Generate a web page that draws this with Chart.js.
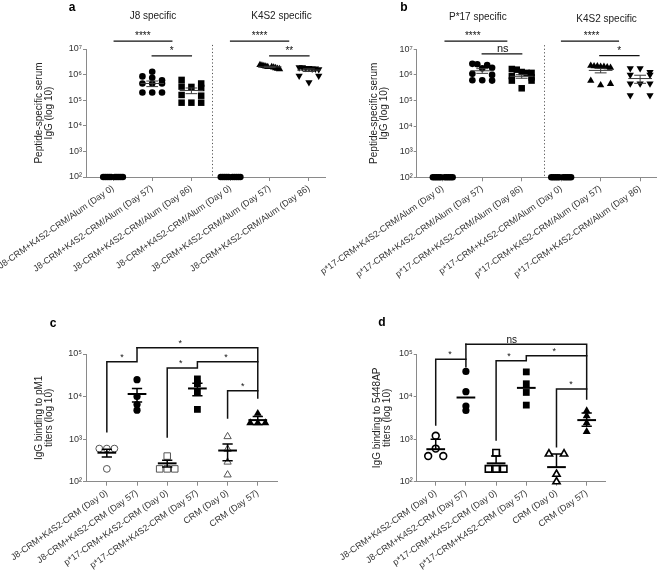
<!DOCTYPE html>
<html>
<head>
<meta charset="utf-8">
<script src="https://cdn.jsdelivr.net/npm/chart.js@4/dist/chart.umd.min.js"></script>
<style>
html,body{margin:0;padding:0;background:#fff;overflow:hidden;}
#wrap{position:relative;width:669px;height:572px;overflow:hidden;background:#fff;}
canvas{position:absolute;left:0;top:0;}
</style>
</head>
<body>
<div id="wrap">
<canvas id="ca" width="669" height="572"></canvas>
<canvas id="cb" width="669" height="572"></canvas>
<canvas id="cc" width="669" height="572"></canvas>
<canvas id="cd" width="669" height="572"></canvas>
</div>
<script>
// ---------------- DATA ----------------
// Panel a
const catsA = ['J8-CRM+K4S2-CRM/Alum (Day 0)', 'J8-CRM+K4S2-CRM/Alum (Day 57)', 'J8-CRM+K4S2-CRM/Alum (Day 86)',
               'J8-CRM+K4S2-CRM/Alum (Day 0)', 'J8-CRM+K4S2-CRM/Alum (Day 57)', 'J8-CRM+K4S2-CRM/Alum (Day 86)'];
const aJ8Day0    = [100, 100, 100, 100, 100, 100, 100, 100, 100, 100];
const aJ8Day57   = [1.3e6, 8.5e5, 7.5e5, 6.0e5, 4.5e5, 4.5e5, 4.5e5, 2.0e5, 2.0e5, 2.0e5];
const aJ8Day86   = [6.2e5, 4.5e5, 3.4e5, 3.3e5, 3.0e5, 1.6e5, 1.5e5, 8.0e4, 8.0e4, 8.0e4];
const aK4S2Day0  = [100, 100, 100, 100, 100, 100, 100, 100, 100, 100];
const aK4S2Day57 = [2.4e6, 2.3e6, 2.2e6, 2.1e6, 2.0e6, 2.0e6, 1.9e6, 1.8e6, 1.7e6, 1.65e6];
const aK4S2Day86 = [1.9e6, 1.9e6, 1.8e6, 1.8e6, 1.7e6, 1.7e6, 1.6e6, 9.0e5, 9.0e5, 5.0e5];
const aCenter = [null, 4.5e5, 2.4e5, null, 2.0e6, 1.5e6];
const aErr    = [0, 1.1e5, 6.0e4, 0, 1.2e5, 1.8e5];

// Panel b
const catsB = ['p*17-CRM+K4S2-CRM/Alum (Day 0)', 'p*17-CRM+K4S2-CRM/Alum (Day 57)', 'p*17-CRM+K4S2-CRM/Alum (Day 86)',
               'p*17-CRM+K4S2-CRM/Alum (Day 0)', 'p*17-CRM+K4S2-CRM/Alum (Day 57)', 'p*17-CRM+K4S2-CRM/Alum (Day 86)'];
const bP17Day0   = [100, 100, 100, 100, 100, 100, 100, 100, 100, 100];
const bP17Day57  = [2.7e6, 2.6e6, 2.4e6, 1.9e6, 1.8e6, 1.1e6, 1.0e6, 6.2e5, 6.0e5, 6.2e5];
const bP17Day86  = [1.7e6, 1.6e6, 1.3e6, 1.2e6, 1.2e6, 9.0e5, 8.0e5, 6.0e5, 6.0e5, 3.0e5];
const bK4S2Day0  = [100, 100, 100, 100, 100, 100, 100, 100, 100, 100];
const bK4S2Day57 = [2.3e6, 2.2e6, 2.2e6, 2.1e6, 2.1e6, 2.0e6, 1.9e6, 6.0e5, 4.5e5, 4.0e5];
const bK4S2Day86 = [1.8e6, 1.8e6, 1.3e6, 1.0e6, 1.0e6, 4.6e5, 4.6e5, 4.6e5, 1.6e5, 1.6e5];
const bCenter = [null, 1.45e6, 8.8e5, null, 1.5e6, 7.2e5];
const bErr    = [0, 3.0e5, 1.4e5, 0, 3.0e5, 2.5e5];

// Panel c
const catsC = ['J8-CRM+K4S2-CRM (Day 0)', 'J8-CRM+K4S2-CRM (Day 57)', 'p*17-CRM+K4S2-CRM (Day 0)',
               'p*17-CRM+K4S2-CRM (Day 57)', 'CRM (Day 0)', 'CRM (Day 57)'];
const cJ8Day0   = [600, 600, 600, 200];
const cJ8Day57  = [2.5e4, 1.0e4, 6.5e3, 4.8e3];
const cP17Day0  = [400, 200, 200, 200];
const cP17Day57 = [2.6e4, 2.0e4, 1.3e4, 5.0e3];
const cCRMDay0  = [1150, 580, 290, 145];
const cCRMDay57 = [4000, 2400, 2400, 2400];
const cCenter = [480, 11500, 270, 15500, 540, 2800];
const cErrUp  = [100, 4000, 50, 5000, 230, 600];
const cErrDn  = [100, 4000, 50, 5000, 230, 600];

// Panel d
const catsD = catsC.slice();
const dJ8Day0   = [1200, 600, 400, 400];
const dJ8Day57  = [3.9e4, 1.3e4, 6.0e3, 4.7e3];
const dP17Day0  = [480, 200, 200, 200];
const dP17Day57 = [3.8e4, 2.0e4, 1.25e4, 6.3e3];
const dCRMDay0  = [450, 450, 150, 100];
const dCRMDay57 = [4.6e3, 3.5e3, 2.4e3, 1.5e3];
const dCenter = [580, 9500, 270, 16000, 220, 2800];
const dErrUp  = [420, 0, 130, 0, 230, 1300];
const dErrDn  = [0, 0, 0, 0, 0, 800];

// axis ticks
const yTicksAB = [1e2, 1e3, 1e4, 1e5, 1e6, 1e7];
const yLabelsAB = ['10²', '10³', '10⁴', '10⁵', '10⁶', '10⁷'];
const yTicksCD = [1e2, 1e3, 1e4, 1e5];
const yLabelsCD = ['10²', '10³', '10⁴', '10⁵'];

// significance annotations: polylines as [category, log10(value)]
const aSigLines = [[[0.03, 7.31], [1.5, 7.31]], [[1, 6.73], [2, 6.73]], [[3, 7.31], [4.48, 7.31]], [[4, 6.73], [5, 6.73]]];
const aSigText  = [{t: '****', x: 0.76, l: 7.31}, {t: '*', x: 1.5, l: 6.73}, {t: '****', x: 3.74, l: 7.31}, {t: '**', x: 4.5, l: 6.73}];
const bSigLines = [[[0.06, 7.32], [1.62, 7.32]], [[1, 6.82], [2, 6.82]], [[3.01, 7.32], [4.45, 7.32]], [[3.98, 6.75], [4.97, 6.75]]];
const bSigText  = [{t: '****', x: 0.76, l: 7.32}, {t: 'ns', x: 1.52, l: 6.82}, {t: '****', x: 3.77, l: 7.32}, {t: '*', x: 4.47, l: 6.75}];
const cSigLines = [
  [[0, 3.175], [0, 4.819], [1, 4.819], [1, 5.148]],
  [[1, 5.148], [5, 5.148], [5, 3.966]],
  [[2, 3.05], [2, 4.671], [3, 4.671], [3, 4.819], [5, 4.819]],
  [[4, 3.497], [4, 4.138], [5, 4.138]]
];
const cSigText = [{t: '*', x: 0.5, l: 4.819}, {t: '*', x: 2.43, l: 5.148}, {t: '*', x: 2.45, l: 4.671}, {t: '*', x: 3.95, l: 4.819}, {t: '*', x: 4.5, l: 4.138}];
const dSigLines = [
  [[0, 3.332], [0, 4.875], [1, 4.875]],
  [[1, 4.701], [1, 5.228]],
  [[1, 5.228], [5, 5.228], [5, 3.943]],
  [[2, 2.98], [2, 4.842], [3, 4.842], [3, 4.96], [5, 4.96]],
  [[4, 2.822], [4, 4.178], [5, 4.178]]
];
const dSigText = [{t: '*', x: 0.47, l: 4.875}, {t: 'ns', x: 2.52, l: 5.228}, {t: '*', x: 2.43, l: 4.842}, {t: '*', x: 3.93, l: 4.96}, {t: '*', x: 4.48, l: 4.178}];

// ---------------- RENDERING ----------------
const FONT = '"Liberation Sans", Arial, Helvetica, sans-serif';
Chart.defaults.font.family = FONT;
Chart.defaults.font.size = 9;
Chart.defaults.color = '#333';

function slots(n) {
  const s = [];
  if (n % 2) { s.push(0); for (let k = 1; s.length < n; k++) s.push(-k, k); }
  else { for (let k = 1; s.length < n; k++) s.push(-k, k); }
  return s.slice(0, n).sort((a, b) => a - b);
}
function spreadOffsets(vals, pxPerDec, tolPx, step, maxHalf) {
  const order = vals.map((v, i) => i).sort((a, b) => vals[b] - vals[a]);
  const rows = []; let cur = null;
  order.forEach(i => {
    const l = Math.log10(vals[i]);
    if (cur && (cur.start - l) * pxPerDec <= tolPx) cur.items.push(i);
    else { cur = {start: l, items: [i]}; rows.push(cur); }
  });
  const off = vals.map(() => 0);
  rows.forEach(r => {
    const n = r.items.length;
    if (n < 2) return;
    const sl = slots(n);
    const maxSlot = Math.max(...sl.map(Math.abs));
    const st = Math.min(step, maxHalf / maxSlot);
    r.items.forEach((idx, k) => { off[idx] = sl[k] * st; });
  });
  return off;
}

function decorate(chart, P) {
  const ctx = chart.ctx, xs = chart.scales.x, ys = chart.scales.y;
  const X = v => xs.getPixelForValue(v);
  const Y = v => ys.getPixelForValue(v);
  const YL = l => ys.getPixelForValue(Math.pow(10, l));
  ctx.save();
  // dotted separators
  (P.separators || []).forEach(s => {
    ctx.beginPath(); ctx.setLineDash([1.2, 2.3]); ctx.lineWidth = 1; ctx.strokeStyle = '#555';
    const sx = Math.round(X(s.x)) + 0.5;
    ctx.moveTo(sx, YL(s.top)); ctx.lineTo(sx, ys.bottom); ctx.stroke();
  });
  ctx.setLineDash([]);
  // center line and error bars
  ctx.strokeStyle = P.meanColor; ctx.lineCap = 'butt';
  P.centers.forEach((c, i) => {
    if (c == null) return;
    const cy = Y(c), cx = X(i);
    ctx.lineWidth = P.meanWidth;
    ctx.beginPath(); ctx.moveTo(X(i - P.meanHalf), cy); ctx.lineTo(X(i + P.meanHalf), cy); ctx.stroke();
    ctx.lineWidth = P.errWidth;
    const up = P.errUp[i], dn = P.errDn[i];
    if (up > 0) {
      const ty = Y(c + up);
      ctx.beginPath(); ctx.moveTo(cx, cy); ctx.lineTo(cx, ty);
      ctx.moveTo(X(i - P.capHalf), ty); ctx.lineTo(X(i + P.capHalf), ty); ctx.stroke();
    }
    if (dn > 0 && c - dn > 0) {
      const by = Y(c - dn);
      ctx.beginPath(); ctx.moveTo(cx, cy); ctx.lineTo(cx, by);
      ctx.moveTo(X(i - P.capHalf), by); ctx.lineTo(X(i + P.capHalf), by); ctx.stroke();
    }
  });
  // significance brackets
  ctx.strokeStyle = '#111'; ctx.lineWidth = P.bracketWidth; ctx.lineJoin = 'miter'; ctx.lineCap = 'square';
  P.sigLines.forEach(pl => {
    ctx.beginPath();
    pl.forEach(([x, l], k) => { if (k) ctx.lineTo(X(x), YL(l)); else ctx.moveTo(X(x), YL(l)); });
    ctx.stroke();
  });
  ctx.fillStyle = '#111'; ctx.textAlign = 'center'; ctx.textBaseline = 'alphabetic';
  P.sigText.forEach(t => {
    const ns = t.t === 'ns';
    ctx.font = (ns ? P.nsSize : P.starSize) + 'px ' + FONT;
    ctx.fillText(t.t, X(t.x), YL(t.l) - (ns ? 1.5 : 2));
  });
  // group titles
  ctx.font = '10px ' + FONT; ctx.textBaseline = 'middle'; ctx.fillStyle = '#222';
  (P.groupTitles || []).forEach(g => ctx.fillText(g.t, X(g.x), g.y));
  // panel letter
  ctx.font = 'bold 12px ' + FONT; ctx.textAlign = 'center'; ctx.fillStyle = '#000';
  ctx.fillText(P.letter, P.letterX, P.letterY);
  ctx.restore();
}

function buildPanel(id, P) {
  const W = 669, H = 572;
  const pxPerDec = (P.area.bottom - P.area.top) / (Math.log10(P.ymax) - Math.log10(P.ymin));
  const datasets = P.groups.map((g, gi) => {
    const off = spreadOffsets(g.vals, pxPerDec, P.tolPx, P.step, 0.25);
    return {
      data: g.vals.map((v, i) => ({x: gi + off[i], y: v})),
      showLine: false,
      clip: false,
      pointStyle: g.style,
      pointRotation: g.rot || 0,
      pointRadius: g.r,
      pointHoverRadius: g.r,
      pointBackgroundColor: g.open ? '#fff' : '#000',
      pointBorderColor: g.open ? P.openColor : '#000',
      pointBorderWidth: g.open ? P.openWidth : 0
    };
  });
  const axisGrid = (len) => ({display: true, drawOnChartArea: false, drawTicks: true, tickLength: len, color: '#8a8a8a', lineWidth: 1});
  return new Chart(document.getElementById(id), {
    type: 'scatter',
    data: {datasets},
    options: {
      responsive: false, animation: false, devicePixelRatio: 1, events: [],
      layout: {padding: {left: P.padLeft, right: W - P.area.right, top: P.area.top, bottom: 0}},
      plugins: {legend: {display: false}, tooltip: {enabled: false}, title: {display: false}},
      scales: {
        x: {
          type: 'linear', min: P.xmin, max: P.xmax, bounds: 'data',
          afterBuildTicks: s => { s.ticks = P.cats.map((c, i) => ({value: i})); },
          afterFit: s => { s.height = H - P.area.bottom; s.paddingLeft = 0; s.paddingRight = 0; },
          ticks: {autoSkip: false, minRotation: 35, maxRotation: 35, padding: 2, color: '#333',
                  font: {size: 9, family: FONT}, callback: (v, i) => P.cats[i]},
          grid: axisGrid(4),
          border: {display: true, color: '#8a8a8a', width: 1}
        },
        y: {
          type: 'logarithmic', min: P.ymin, max: P.ymax, bounds: 'data',
          afterBuildTicks: s => { s.ticks = P.yTicks.map(v => ({value: v})); },
          afterFit: s => { s.width = P.area.left - P.padLeft; },
          ticks: {padding: 1, color: '#333', font: {size: 9, family: FONT}, callback: (v, i) => P.yLabels[i]},
          title: {display: true, text: P.yTitle, padding: 0, color: '#222', font: {size: 10, family: FONT, lineHeight: 1.0}},
          grid: axisGrid(3),
          border: {display: true, color: '#8a8a8a', width: 1}
        }
      }
    },
    plugins: [{id: 'decor_' + id, afterDatasetsDraw(chart) { decorate(chart, P); }}]
  });
}

const baseAB = {ymin: 1e2, ymax: 1e7, yTicks: yTicksAB, yLabels: yLabelsAB, yTitle: ['Peptide-specific serum', 'IgG (log 10)'],
  tolPx: 4.5, step: 0.27, meanColor: '#3a3a3a', meanWidth: 1, errWidth: 1, meanHalf: 0.3, capHalf: 0.15,
  bracketWidth: 1.3, starSize: 10, nsSize: 11, openColor: '#000', openWidth: 1};
const baseCD = {ymin: 1e2, ymax: 1e5, yTicks: yTicksCD, yLabels: yLabelsCD,
  tolPx: 4.5, step: 0.25, meanColor: '#000', meanWidth: 2, errWidth: 1.5, meanHalf: 0.31, capHalf: 0.17,
  bracketWidth: 1.5, starSize: 9, nsSize: 10};

buildPanel('ca', Object.assign({}, baseAB, {
  cats: catsA, area: {left: 86, right: 325, top: 49, bottom: 177}, padLeft: 34.5, xmin: -0.69, xmax: 5.41,
  groups: [
    {vals: aJ8Day0, style: 'circle', r: 3.3}, {vals: aJ8Day57, style: 'circle', r: 3.3},
    {vals: aJ8Day86, style: 'rect', r: 4.6}, {vals: aK4S2Day0, style: 'circle', r: 3.3},
    {vals: aK4S2Day57, style: 'triangle', r: 4.2}, {vals: aK4S2Day86, style: 'triangle', rot: 180, r: 4.2}
  ],
  centers: aCenter, errUp: aErr, errDn: aErr, sigLines: aSigLines, sigText: aSigText,
  separators: [{x: 2.52, top: 7.16}],
  groupTitles: [{t: 'J8 specific', x: 1.02, y: 16}, {t: 'K4S2 specific', x: 4.3, y: 16}],
  letter: 'a', letterX: 72, letterY: 8
}));

buildPanel('cb', Object.assign({}, baseAB, {
  cats: catsB, area: {left: 416.7, right: 656.7, top: 49.3, bottom: 177.3}, padLeft: 369.5, xmin: -0.66, xmax: 5.42,
  groups: [
    {vals: bP17Day0, style: 'circle', r: 3.3}, {vals: bP17Day57, style: 'circle', r: 3.3},
    {vals: bP17Day86, style: 'rect', r: 4.6}, {vals: bK4S2Day0, style: 'circle', r: 3.3},
    {vals: bK4S2Day57, style: 'triangle', r: 4.2}, {vals: bK4S2Day86, style: 'triangle', rot: 180, r: 4.2}
  ],
  centers: bCenter, errUp: bErr, errDn: bErr, sigLines: bSigLines, sigText: bSigText,
  separators: [{x: 2.56, top: 7.16}],
  groupTitles: [{t: 'P*17 specific', x: 0.89, y: 17}, {t: 'K4S2 specific', x: 4.15, y: 19}],
  letter: 'b', letterX: 404, letterY: 8
}));

buildPanel('cc', Object.assign({}, baseCD, {
  cats: catsC, area: {left: 86, right: 277.7, top: 354, bottom: 481.7}, padLeft: 34.5, xmin: -0.69, xmax: 5.66,
  yTitle: ['IgG binding to pM1', 'titers (log 10)'], openColor: '#555', openWidth: 1,
  groups: [
    {vals: cJ8Day0, style: 'circle', r: 3.4, open: true}, {vals: cJ8Day57, style: 'circle', r: 3.6},
    {vals: cP17Day0, style: 'rect', r: 4.6, open: true}, {vals: cP17Day57, style: 'rect', r: 4.8},
    {vals: cCRMDay0, style: 'triangle', r: 4.2, open: true}, {vals: cCRMDay57, style: 'triangle', r: 4.6}
  ],
  centers: cCenter, errUp: cErrUp, errDn: cErrDn, sigLines: cSigLines, sigText: cSigText,
  letter: 'c', letterX: 53, letterY: 324
}));

buildPanel('cd', Object.assign({}, baseCD, {
  cats: catsD, area: {left: 416.7, right: 605.7, top: 354, bottom: 481.7}, padLeft: 372, xmin: -0.63, xmax: 5.63,
  yTitle: ['IgG binding to 5448AP', 'titers (log 10)'], openColor: '#000', openWidth: 1.6,
  groups: [
    {vals: dJ8Day0, style: 'circle', r: 3.4, open: true}, {vals: dJ8Day57, style: 'circle', r: 3.6},
    {vals: dP17Day0, style: 'rect', r: 4.6, open: true}, {vals: dP17Day57, style: 'rect', r: 4.8},
    {vals: dCRMDay0, style: 'triangle', r: 4.2, open: true}, {vals: dCRMDay57, style: 'triangle', r: 4.6}
  ],
  centers: dCenter, errUp: dErrUp, errDn: dErrDn, sigLines: dSigLines, sigText: dSigText,
  letter: 'd', letterX: 382, letterY: 323
}));
</script>
</body>
</html>
